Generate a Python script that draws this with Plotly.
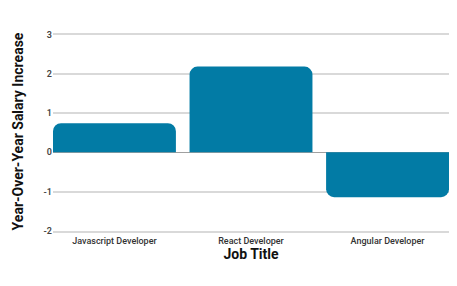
import plotly.graph_objects as go

categories = ["Javascript Developer", "React Developer", "Angular Developer"]
values = [0.74, 2.18, -1.14]
y_ticks = [-2, -1, 0, 1, 2, 3]
y_tick_labels = ["-2", "-1", "0", "1", "2", "3"]

fig = go.Figure(go.Bar(x=categories, y=values, marker=dict(color="#027BA5", line=dict(width=0))))

fig.update_layout(
    width=457, height=286,
    margin=dict(l=53, r=8, t=32, b=55),
    paper_bgcolor="white", plot_bgcolor="white",
    bargap=0.1,
    barcornerradius=8,
    showlegend=False,
    font=dict(family="Roboto", color="#222"),
    xaxis=dict(
        title=dict(text="<b>Job Title</b>", font=dict(size=14, color="#111"), standoff=5),
        tickfont=dict(size=9, color="#333", weight=500),
        range=[-0.45, 2.45],
        showgrid=False,
        showline=True, linecolor="#d9d9d9", linewidth=1.5,
    ),
    yaxis=dict(
        title=dict(text="<b>Year-Over-Year Salary Increase</b>", font=dict(size=14, color="#111"), standoff=16),
        range=[-2, 3.06],
        tickvals=y_ticks,
        ticktext=y_tick_labels,
        tickfont=dict(size=9, color="#444", weight=600),
        showgrid=True, gridcolor="#d9d9d9", gridwidth=1.5,
        zeroline=True, zerolinecolor="#a0a0a0", zerolinewidth=1,
    ),
)

fig.write_html("out.html")
